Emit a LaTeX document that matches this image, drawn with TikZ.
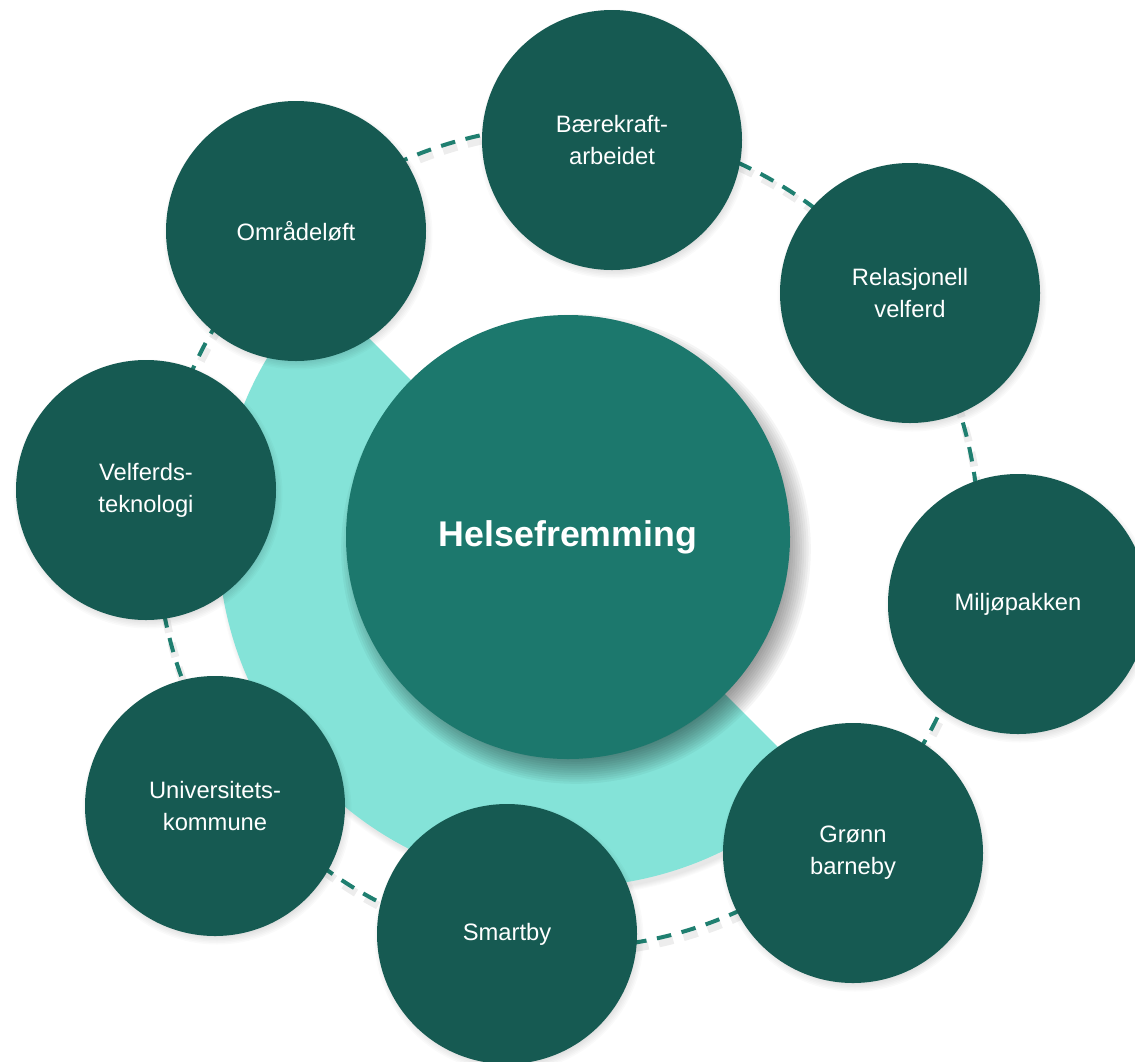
\documentclass[tikz,border=0pt]{standalone}
\usepackage{fontspec}
\setmainfont{Liberation Sans}
\usetikzlibrary{calc}
\definecolor{darkteal}{HTML}{165A52}
\definecolor{midteal}{HTML}{1C786D}
\definecolor{lightteal}{HTML}{84E3D8}
\definecolor{dashteal}{HTML}{1F7F70}
\begin{document}
\begin{tikzpicture}[x=0.75pt,y=0.75pt,
  outer/.style={circle, fill=darkteal, minimum size=195pt, inner sep=0pt, text=white, align=center, font=\fontsize{17.8}{24}\selectfont},
  hub/.style={circle, fill=midteal, minimum size=333pt, inner sep=0pt, text=white, font=\bfseries\fontsize{26.8}{32}\selectfont},
  ring/.style={draw=dashteal, line width=3pt, dash pattern=on 11pt off 8pt},
  ringshadow/.style={draw=black, opacity=0.07, line width=6pt, dash pattern=on 11pt off 8pt}]
\useasboundingbox (0,0) rectangle (1135,-1061);
\clip (0,0) rectangle (1135,-1061);
\coordinate (c) at (568,-537);
% dashed ring
\draw[ringshadow] ($(c)+(2,-5)$) circle[radius=411];
\draw[ring] (c) circle[radius=411];
% light sector
\foreach \k in {0,...,5} \fill[black, opacity=0.015] ($(c)+(3,-4)$) -- ++(135:350+\k) arc[start angle=135,end angle=315,radius=350+\k] -- cycle;
\fill[lightteal] (c) -- ++(135:350) arc[start angle=135,end angle=315,radius=350] -- cycle;
% hub shadow
\foreach \k in {0,...,14} \fill[black, opacity=0.04] ($(c)+(8,-12)$) circle[radius=204+2.2*\k];
\node[hub] (hub) at (c) {\raisebox{-3pt}{Helsefremming}};
% outer shadows
\foreach \x/\y in {296/231, 612/140, 910/293, 1018/604, 853/853, 507/934, 215/806, 146/490}
  {\foreach \k in {0,...,5} \fill[black, opacity=0.02] (\x+2,-\y-4) circle[radius=127+1.5*\k];}
% outer circles
\node[outer] (omr) at (296,-231) {Områdeløft};
\node[outer] (bae) at (612,-140) {Bærekraft-\\arbeidet};
\node[outer] (rel) at (910,-293) {Relasjonell\\velferd};
\node[outer] (mil) at (1018,-604) {Miljøpakken};
\node[outer] (gro) at (853,-853) {Grønn\\barneby};
\node[outer] (sma) at (507,-934) {Smartby};
\node[outer] (uni) at (215,-806) {Universitets-\\kommune};
\node[outer] (vel) at (146,-490) {Velferds-\\teknologi};
\end{tikzpicture}
\end{document}
